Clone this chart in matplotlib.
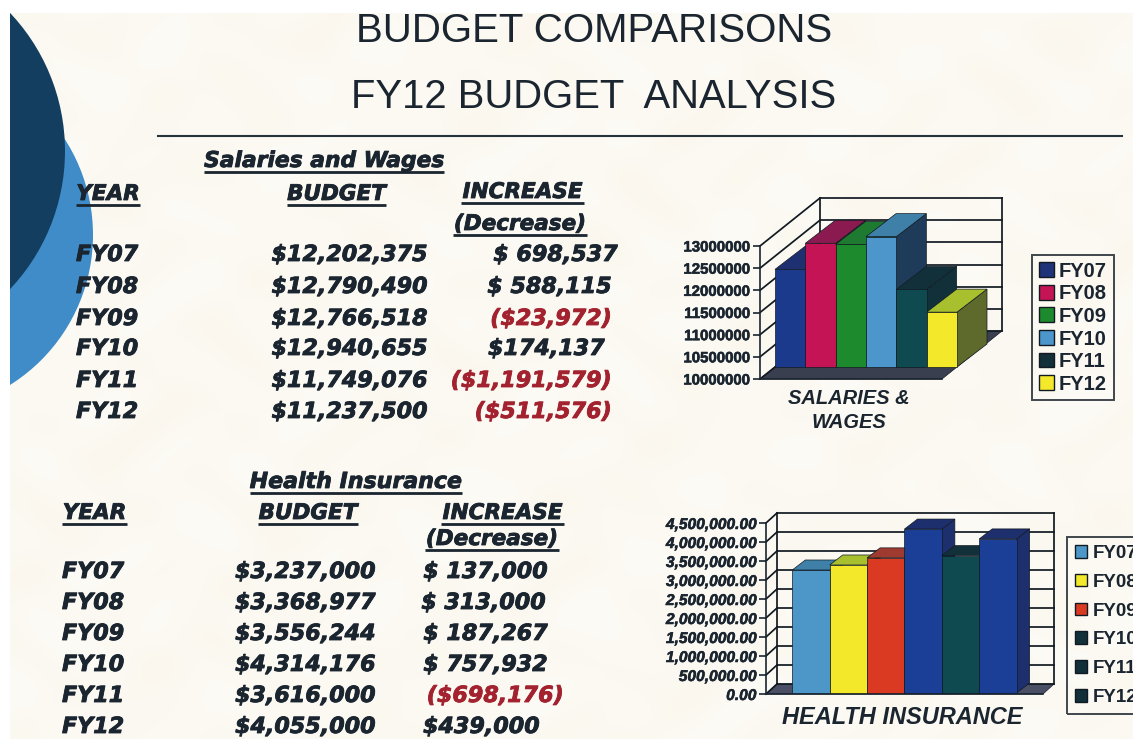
import numpy as np
import matplotlib
matplotlib.use("Agg")
import matplotlib.pyplot as plt
import matplotlib.patheffects as pe
from matplotlib.patches import Circle, Rectangle, Polygon, Patch
from matplotlib.lines import Line2D
from matplotlib.transforms import IdentityTransform, Affine2D

# ---------- data ----------
years = ["FY07", "FY08", "FY09", "FY10", "FY11", "FY12"]
salary_values = [12202375, 12790490, 12766518, 12940655, 11749076, 11237500]
health_values = [3237000, 3368977, 3556244, 4314176, 3616000, 4055000]

salary_budget_text = ["$12,202,375", "$12,790,490", "$12,766,518", "$12,940,655", "$11,749,076", "$11,237,500"]
salary_change_text = ["$ 698,537", "$ 588,115", "($23,972)", "$174,137", "($1,191,579)", "($511,576)"]
health_budget_text = ["$3,237,000", "$3,368,977", "$3,556,244", "$4,314,176", "$3,616,000", "$4,055,000"]
health_change_text = ["$ 137,000", "$ 313,000", "$ 187,267", "$ 757,932", "($698,176)", "$439,000"]

salary_ticks = [10000000, 10500000, 11000000, 11500000, 12000000, 12500000, 13000000]
health_ticks = [0, 500000, 1000000, 1500000, 2000000, 2500000, 3000000, 3500000, 4000000, 4500000]

# ---------- styles ----------
W, H = 1133, 739
INK = "#1a2530"
RED = "#a3222f"
sal_front = ["#1b3a8c", "#c41455", "#1e8a2e", "#4c96cc", "#0e4a50", "#f3e92a"]
sal_top = ["#1f3070", "#8a1a50", "#1e7a30", "#3f80a8", "#12303a", "#a8bf2e"]
sal_side = ["#1f3070", "#6a1a40", "#1a5a30", "#1f3b5a", "#12303a", "#5e6a2c"]
sal_legend = ["#1f3478", "#c41455", "#1e8a2e", "#4c96cc", "#12303a", "#f3e92a"]
hea_front = ["#4c96c8", "#f3e92a", "#db3a22", "#1b3f96", "#0e4a50", "#1b3f96"]
hea_top = ["#3f80a8", "#a8bf2e", "#9e3a30", "#1e2f6e", "#12303a", "#1e2f6e"]
hea_side = ["#2f5f80", "#5e6a2c", "#7a2a25", "#1e2f6e", "#12303a", "#1e2f6e"]
hea_legend = ["#4c96c8", "#f3e92a", "#db3a22", "#12303a", "#12303a", "#12303a"]


def heavy(w=0.5, col=INK):
    return [pe.withStroke(linewidth=w, foreground=col)]


fig = plt.figure(figsize=(W / 100, H / 100), dpi=100, facecolor="white")

# page layer in pixel coordinates
bg = fig.add_axes([0, 0, 1, 1], zorder=0)
bg.set_xlim(0, W)
bg.set_ylim(H, 0)
bg.axis("off")

# soft paper mottling
yy, xx = np.mgrid[0:H:3, 0:W:3]
mott = (np.sin(xx / 17.0 + np.sin(yy / 23.0) * 2) + np.sin(yy / 13.0 + np.cos(xx / 31.0) * 2)
        + np.sin((xx + yy) / 41.0)) / 3
base = np.array([253, 251, 246]) / 255
shade = np.array([-0.008, -0.014, -0.028])
tex = base[None, None, :] + (0.5 + 0.5 * mott)[:, :, None] * shade[None, None, :]
paper = Rectangle((10, 13), W - 10, H - 13, transform=bg.transData, fc="none", ec="none")
bg.add_patch(paper)
im = bg.imshow(tex, extent=(0, W, H, 0), aspect="auto", interpolation="bilinear", zorder=0)
im.set_clip_path(paper)
bg.set_xlim(0, W)
bg.set_ylim(H, 0)

for (cx, cy, r, col, z) in [(-84, 235, 177, "#3f8cc8", 1), (-136, 151, 201, "#143e60", 2)]:
    c = Circle((cx, cy), r, fc=col, ec="none", zorder=z)
    bg.add_patch(c)
    c.set_clip_path(paper)

BI = dict(family="DejaVu Sans", weight="bold", style="italic", va="center", zorder=5)


def txt(x, y, s, size=16, ha="left", color=INK):
    bg.text(x, y, s, **BI, color=color, fontsize=size, ha=ha, path_effects=heavy(0.6, color))


def head(x0, x1, y, s, size=15.5):
    bg.text((x0 + x1) / 2, y, s, **BI, color=INK, fontsize=size, ha="center", path_effects=heavy(0.6))
    bg.plot([x0, x1], [y + 11, y + 11], color=INK, lw=2, zorder=5, solid_capstyle="butt")


bg.text(594, 31, "BUDGET COMPARISONS", family="Liberation Sans", fontsize=29, color=INK,
        ha="center", va="center", zorder=5)
bg.text(594, 97, "FY12 BUDGET  ANALYSIS", family="Liberation Sans", fontsize=28.8, color=INK,
        ha="center", va="center", zorder=5)
bg.plot([158, 1122], [136, 136], color="#26323c", lw=1.5, zorder=5)

# salaries table
head(204, 444, 161, "Salaries and Wages", 15.7)
head(76, 140, 194, "YEAR")
head(287, 386, 194, "BUDGET")
head(461, 584, 192, "INCREASE")
head(453, 587, 224, "(Decrease)")
sal_rows = [255, 287, 319, 349, 381, 412]
sal_right = [618, 612, 612, 605, 612, 612]
for y, fy, b, c, xr in zip(sal_rows, years, salary_budget_text, salary_change_text, sal_right):
    txt(76, y, fy)
    txt(428, y, b, ha="right")
    txt(xr, y, c, ha="right", color=RED if c.startswith("(") else INK)

# health table
head(250, 462, 482, "Health Insurance", 15.9)
head(62, 127, 513, "YEAR")
head(258, 358, 513, "BUDGET")
head(441, 564, 513, "INCREASE")
head(425, 559, 539, "(Decrease)")
hea_rows = [572, 603, 634, 665, 696, 727]
hea_right = [548, 546, 548, 548, 564, 540]
for y, fy, b, c, xr in zip(hea_rows, years, health_budget_text, health_change_text, hea_right):
    txt(62, y, fy)
    txt(376, y, b, ha="right")
    txt(xr, y, c, ha="right", color=RED if c.startswith("(") else INK)


def chart(box, xlim, ylim, values, ticks, labels, tickfont, wall, floor_col, plane, depth, width,
          front, top, side):
    """box = left, top, right, bottom of the front plane, in image pixels."""
    l, t, r, b = box
    ax = fig.add_axes([l / W, 1 - b / H, (r - l) / W, (b - t) / H], zorder=3)
    ax.patch.set_visible(False)
    ax.set_xlim(*xlim)
    ax.set_ylim(*ylim)
    for s in ("top", "right"):
        ax.spines[s].set_visible(False)
    for s in ("left", "bottom"):
        ax.spines[s].set_color(INK)
        ax.spines[s].set_linewidth(1.2)
    ax.set_xticks([])
    ax.set_yticks(ticks)
    ax.set_yticklabels(labels, **tickfont)
    for lab in ax.get_yticklabels():
        lab.set_path_effects(heavy(0.4))
    ax.tick_params(axis="y", length=5, width=1.2, color=INK, pad=2)

    idt = IdentityTransform()

    def P(x, y, dx=0, dy=0):
        px = ax.transData.transform((x, y))
        return (px[0] + dx, px[1] + dy)

    def poly(pts, fc, z=2):
        ax.add_patch(Polygon(pts, closed=True, fc=fc, ec="#111a22", lw=0.5, transform=idt,
                             clip_on=False, zorder=z))

    def line(a, b_):
        ax.add_line(Line2D([a[0], b_[0]], [a[1], b_[1]], color="#111a22", lw=1.25, transform=idt,
                           clip_on=False, zorder=1))

    wx, wy = wall
    x0, x1 = xlim
    y0, y1 = ylim
    poly([P(x0, y0), P(x1, y0), P(x1, y0, wx, wy), P(x0, y0, wx, wy)], floor_col, 1)
    for tk in ticks:
        line(P(x0, tk), P(x0, tk, wx, wy))
        line(P(x0, tk, wx, wy), P(x1, tk, wx, wy))
    line(P(x0, y0, wx, wy), P(x0, y1, wx, wy))
    line(P(x1, y0, wx, wy), P(x1, y1, wx, wy))

    px_, py_ = plane
    dx_, dy_ = depth
    xs = np.arange(len(values))
    offset = Affine2D().translate(px_, py_)
    for i, v in zip(xs, values):
        a, c = i - width / 2, i + width / 2
        z = 3 + i * 0.1
        poly([P(c, y0, px_, py_), P(c, v, px_, py_), P(c, v, px_ + dx_, py_ + dy_), P(c, y0, px_ + dx_, py_ + dy_)],
             side[i], z)
        poly([P(a, v, px_, py_), P(c, v, px_, py_), P(c, v, px_ + dx_, py_ + dy_), P(a, v, px_ + dx_, py_ + dy_)],
             top[i], z)
        ax.bar(i, v - y0, width, bottom=y0, color=front[i], edgecolor="#111a22", linewidth=0.5,
               transform=ax.transData + offset, clip_on=False, zorder=z + 0.05)
    ax.set_xlim(*xlim)
    ax.set_ylim(*ylim)
    return ax


# salaries chart
sal_labels = [str(t) for t in salary_ticks]
ax1 = chart((760, 246, 942, 379), (-0.5, 5.5), (10000000, 13000000), salary_values, salary_ticks, sal_labels,
            dict(family="Liberation Sans", weight="bold", fontsize=10.8, color=INK),
            (60, 48), "#3a3f50", (15, 12), (30, 23), 1.0, sal_front, sal_top, sal_side)
CAP = dict(family="Liberation Sans", weight="bold", style="italic", color=INK, ha="center", va="center", zorder=5)
bg.text(849, 398, "SALARIES &", fontsize=14.5, **CAP)
bg.text(849, 423, "WAGES", fontsize=14.5, **CAP)

# health chart: 277 px wide front plane, 36.9 px per bar, first bar edge 26 px from the axis
hea_labels = [f"{t:,.2f}" for t in health_ticks]
ax2 = chart((766, 523, 1043, 694), (-0.5 - 24 / 36.9, 5.5 + 28 / 36.9), (0, 4500000), health_values, health_ticks,
            hea_labels,
            dict(family="Liberation Sans", weight="bold", style="italic", fontsize=11.2, color=INK),
            (11, 10), "#4a4f66", (2, 1), (13, 10), 1.0, hea_front, hea_top, hea_side)
bg.text(902, 718, "HEALTH INSURANCE", fontsize=17, **CAP)


def legend(colors, x, ytop, size, spacing, pad, hlen, tpad):
    handles = [Patch(fc=c, ec="#111a22", lw=1, label=y) for c, y in zip(colors, years)]
    lg = fig.legend(handles=handles, loc="upper left", bbox_to_anchor=(x / W, 1 - ytop / H),
                    bbox_transform=fig.transFigure, fancybox=False, facecolor="none", framealpha=None,
                    edgecolor="#111a22", handlelength=hlen, handleheight=hlen, handletextpad=tpad,
                    labelspacing=spacing, borderpad=pad, borderaxespad=0,
                    prop=dict(family="Liberation Sans", weight="bold", size=size))
    lg.set_zorder(6)
    lg.get_frame().set_linewidth(1.4)
    for t in lg.get_texts():
        t.set_color(INK)
    return lg


legend(sal_legend, 1032, 255, 14.5, 0.18, 0.33, 0.75, 0.26)
legend(hea_legend, 1067, 537, 13.5, 0.63, 0.42, 0.67, 0.3)

fig.savefig("out.png", dpi=100)
